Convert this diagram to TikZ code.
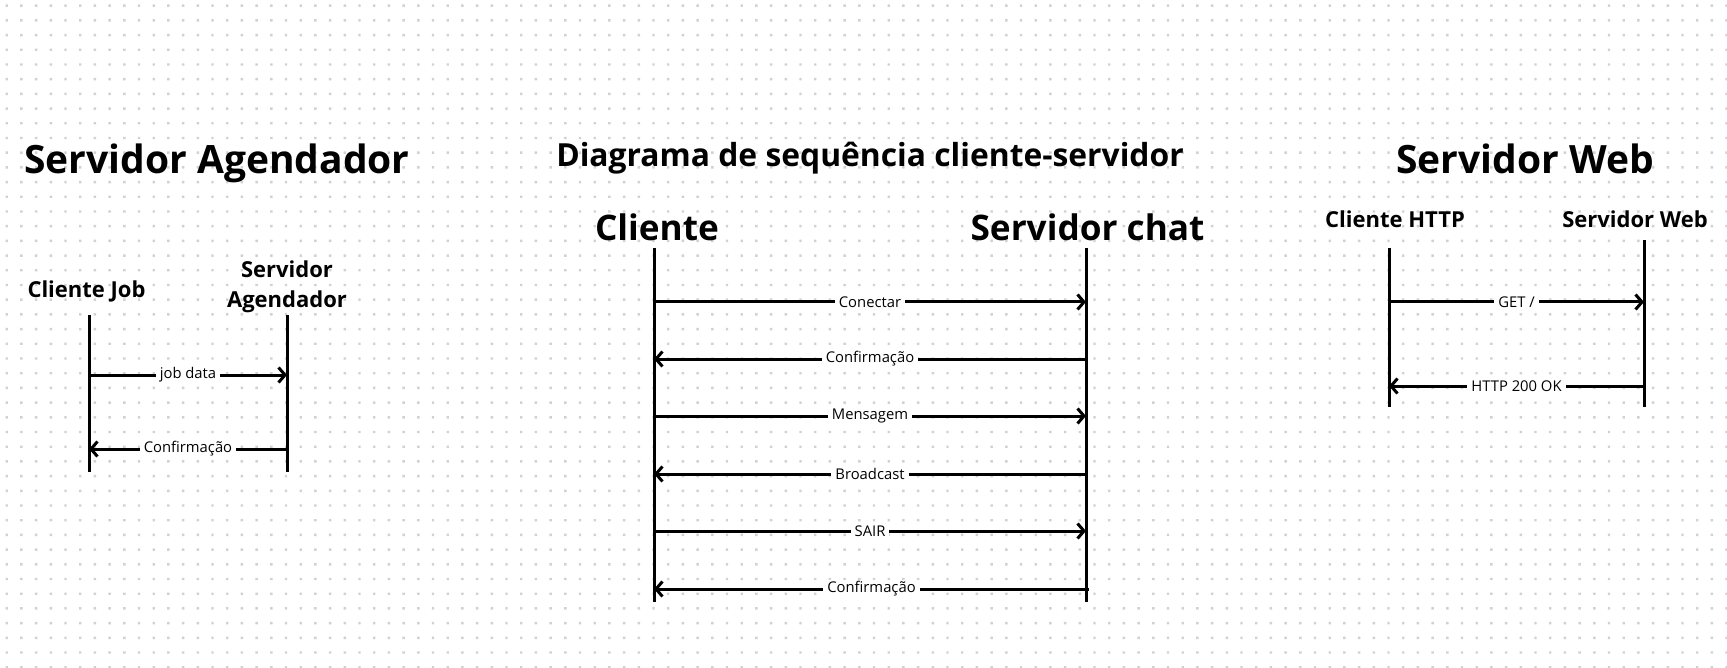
\documentclass[tikz,border=0pt]{standalone}
\usepackage{fontspec}
\setmainfont{Open Sans}
\usetikzlibrary{arrows.meta}
\definecolor{dotc}{RGB}{206,209,218}
\tikzset{
  life/.style={line width=3pt},
  msg/.style={line width=3pt,-{Straight Barb[length=6.5pt,width=15pt]}},
  lbl/.style={fill=white,inner xsep=4pt,inner ysep=2pt,font=\fontsize{14.8}{17}\selectfont},
  bigtitle/.style={anchor=base,inner sep=0pt,font=\bfseries\fontsize{39}{42}\selectfont},
  midtitle/.style={anchor=base,inner sep=0pt,font=\bfseries\fontsize{31.8}{34}\selectfont},
  bighead/.style={anchor=base,inner sep=0pt,font=\bfseries\fontsize{35.2}{38}\selectfont},
  smallhead/.style={anchor=base,inner sep=0pt,align=center,font=\bfseries\fontsize{22}{30.5}\selectfont},
}
\begin{document}
\begin{tikzpicture}[x=1pt,y=-1pt]
\useasboundingbox (0,0) rectangle (1727,668);
\fill[white] (0,0) rectangle (1727,668);
\fill[dotc] \foreach \i in {0,...,117} { \foreach \j in {0,...,45} { (6.7+14.7*\i-1.2,5.7+14.7*\j-1.2) rectangle ++(2.4,2.4) } };

% ---------- Left: Servidor Agendador ----------
\node[bigtitle] (t1) at (217,174) {Servidor Agendador};
\node[smallhead] (hjob) at (86.5,298) {Cliente Job};
\node[smallhead] (hag) at (287,308) {Servidor\\Agendador};
\coordinate (j1) at (89,315);  \coordinate (j2) at (89,472);
\coordinate (g1) at (287,315); \coordinate (g2) at (287,472);
\draw[life] (j1) -- (j2);
\draw[life] (g1) -- (g2);
\coordinate (jm1) at (89,375);  \coordinate (gm1) at (287,375);
\coordinate (jm2) at (89,449);  \coordinate (gm2) at (287,449);
\draw[msg] (jm1) -- node[lbl] {job data} (gm1);
\draw[msg] (gm2) -- node[lbl] {Confirmação} (jm2);

% ---------- Middle: chat ----------
\node[midtitle] (t2) at (870,167) {Diagrama de sequência cliente-servidor};
\node[bighead] (hcl) at (657,241) {Cliente};
\node[bighead] (hsc) at (1087.5,241) {Servidor chat};
\coordinate (c1) at (654,248);  \coordinate (c2) at (654,602);
\coordinate (s1) at (1086,248); \coordinate (s2) at (1086,602);
\draw[life] (c1) -- (c2);
\draw[life] (s1) -- (s2);
\coordinate (ca) at (654,302); \coordinate (sa) at (1086,302);
\coordinate (cb) at (654,359); \coordinate (sb) at (1086,359);
\coordinate (cc) at (654,416); \coordinate (sc) at (1086,416);
\coordinate (cd) at (654,474); \coordinate (sd) at (1086,474);
\coordinate (ce) at (654,531); \coordinate (se) at (1086,531);
\coordinate (cf) at (654,589); \coordinate (sf) at (1089,589);
\draw[msg] (ca) -- node[lbl] {Conectar} (sa);
\draw[msg] (sb) -- node[lbl] {Confirmação} (cb);
\draw[msg] (cc) -- node[lbl] {Mensagem} (sc);
\draw[msg] (sd) -- node[lbl] {Broadcast} (cd);
\draw[msg] (ce) -- node[lbl] {SAIR} (se);
\draw[msg] (sf) -- node[lbl] {Confirmação} (cf);

% ---------- Right: Servidor Web ----------
\node[bigtitle] (t3) at (1525,174) {Servidor Web};
\node[smallhead] (hhttp) at (1395,228) {Cliente HTTP};
\node[smallhead] (hweb) at (1635,228) {Servidor Web};
\coordinate (h1) at (1389,248); \coordinate (h2) at (1389,407);
\coordinate (w1) at (1644,240); \coordinate (w2) at (1644,407);
\draw[life] (h1) -- (h2);
\draw[life] (w1) -- (w2);
\coordinate (ha) at (1389,302); \coordinate (wa) at (1644,302);
\coordinate (hb) at (1389,386); \coordinate (wb) at (1644,386);
\draw[msg] (ha) -- node[lbl] {GET /} (wa);
\draw[msg] (wb) -- node[lbl] {HTTP 200 OK} (hb);
\end{tikzpicture}
\end{document}
